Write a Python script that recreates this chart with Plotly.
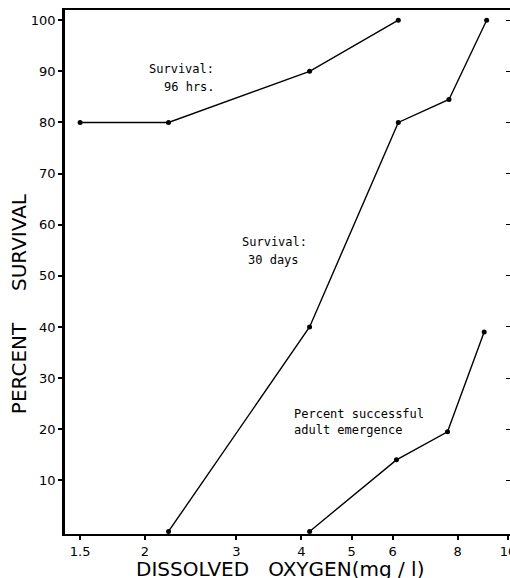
import plotly.graph_objects as go

# Data
x_96h = [1.5, 2.22, 4.15, 6.15]
y_96h = [80, 80, 90, 100]

x_30d = [2.22, 4.15, 6.15, 7.7, 9.1]
y_30d = [0, 40, 80, 84.5, 100]

x_emerg = [4.15, 6.1, 7.65, 9.0]
y_emerg = [0, 14, 19.5, 39]

x_tickvals = [1.5, 2, 3, 4, 5, 6, 8, 10]
x_ticktext = ["1.5", "2", "3", "4", "5", "6", "8", "10"]
y_tickvals = [10, 20, 30, 40, 50, 60, 70, 80, 90, 100]
y_ticktext = ["10", "20", "30", "40", "50", "60", "70", "80", "90", "100"]

line_style = dict(color="black", width=1.4)
marker_style = dict(color="black", size=5)

fig = go.Figure()
for xs, ys in [(x_96h, y_96h), (x_30d, y_30d), (x_emerg, y_emerg)]:
    fig.add_trace(go.Scatter(x=xs, y=ys, mode="lines+markers",
                             line=line_style, marker=marker_style,
                             showlegend=False, hoverinfo="skip",
                             cliponaxis=False))
# invisible trace to carry the right-hand tick axis
fig.add_trace(go.Scatter(x=x_emerg, y=y_emerg, yaxis="y2", mode="lines",
                         line=dict(width=0), opacity=0, showlegend=False,
                         hoverinfo="skip"))

tick_font = dict(family="DejaVu Sans", size=13, color="black")
mono = dict(family="DejaVu Sans Mono", size=12, color="black")

fig.update_layout(
    width=510, height=578,
    margin=dict(l=65, r=0, t=10, b=44, autoexpand=False),
    paper_bgcolor="white", plot_bgcolor="white",
    xaxis=dict(type="log", range=[0.147, 1.004], automargin=False,
               tickvals=x_tickvals, ticktext=x_ticktext,
               ticklabeloverflow="allow",
               ticks="outside", ticklen=4, tickwidth=1.5, tickcolor="black",
               showline=True, linewidth=2, linecolor="black", mirror=True,
               showgrid=False, zeroline=False, tickfont=tick_font),
    yaxis=dict(range=[-0.5, 102], tickvals=y_tickvals, ticktext=y_ticktext,
               automargin=False,
               ticks="outside", ticklen=4, tickwidth=1.5, tickcolor="black",
               showline=True, linewidth=2.5, linecolor="black",
               showgrid=False, zeroline=False, tickfont=tick_font),
    yaxis2=dict(range=[-0.5, 102], overlaying="y", side="right",
                automargin=False,
                tickvals=y_tickvals, ticks="inside", ticklen=4, tickwidth=1.2,
                tickcolor="black", showticklabels=False, showline=False,
                showgrid=False, zeroline=False),
)

annots = [
    ("Survival:", 0.305, 90.5),
    ("96 hrs.", 0.334, 87.0),
    ("Survival:", 0.484, 56.6),
    ("30 days", 0.496, 53.1),
    ("Percent successful", 0.584, 22.9),
    ("adult emergence", 0.584, 19.8),
]
for txt, xl, yv in annots:
    fig.add_annotation(x=xl, y=yv, xref="x", yref="y", text=txt,
                       showarrow=False, xanchor="left", yanchor="middle",
                       font=mono)

fig.add_annotation(x=0.483, y=-0.066, xref="paper", yref="paper",
                   text="DISSOLVED   OXYGEN(mg / l)", showarrow=False,
                   xanchor="center", yanchor="middle",
                   font=dict(family="DejaVu Sans", size=20, color="black"))
fig.add_annotation(x=-0.103, y=0.439, xref="paper", yref="paper",
                   text="PERCENT     SURVIVAL", showarrow=False, textangle=-90,
                   xanchor="center", yanchor="middle",
                   font=dict(family="DejaVu Sans", size=20, color="black"))

fig.write_html(
    "out.html",
    config={"displayModeBar": False},
    post_script="document.body.style.margin='0';"
                "document.body.style.overflow='hidden';"
                "document.documentElement.style.overflow='hidden';",
)
